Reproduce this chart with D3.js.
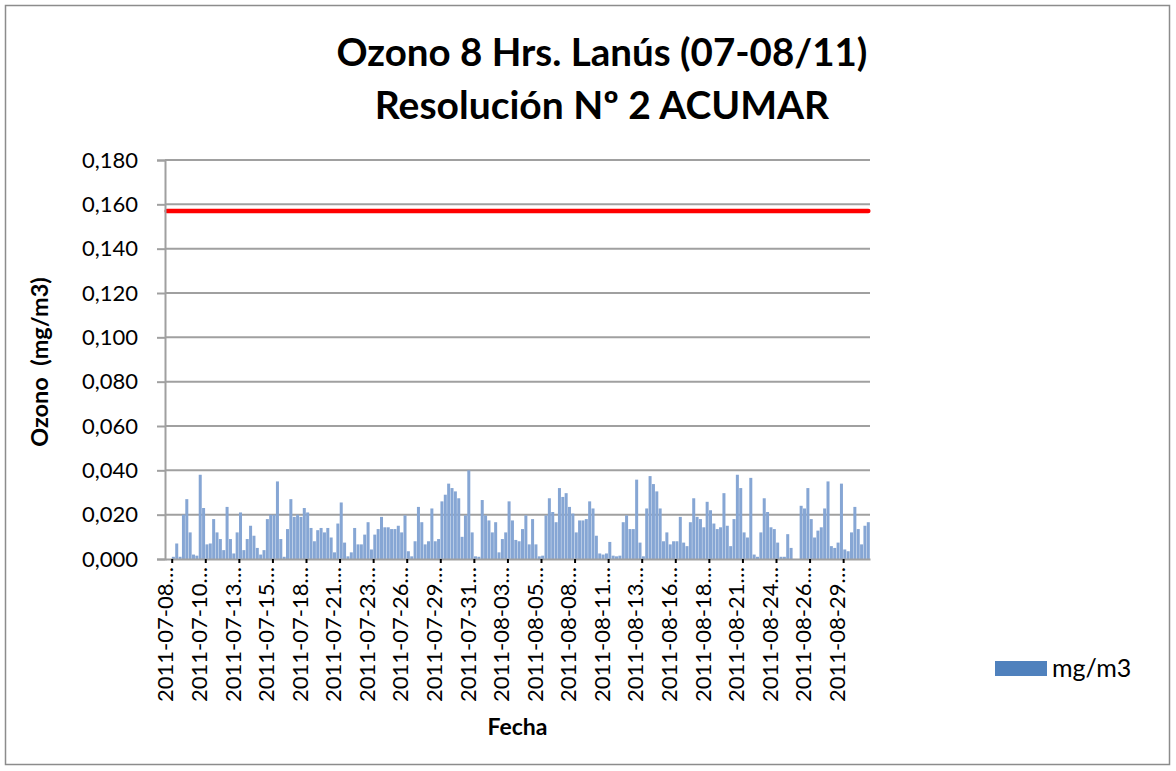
<!DOCTYPE html>
<html><head><meta charset="utf-8">
<script src="https://cdn.jsdelivr.net/npm/d3@7"></script>
<style>
body{margin:0;background:#fff}
svg{display:block}
text{font-family:Lato,"Open Sans",sans-serif;fill:#000}
</style>
</head><body>
<svg id="c" width="1176" height="771"></svg>
<script>
// 8-hour ozone, sampled every 6 hours (mg/m3), 2011-07-08 .. 2011-08-31
const ozone = [
0.000,0.000,0.001,0.007,0.001,0.020,0.027,0.012,0.002,0.0015,
0.038,0.023,0.0066,0.007,0.018,0.012,0.009,0.004,0.0235,0.009,
0.0025,0.012,0.021,0.004,0.009,0.015,0.0105,0.005,0.002,0.004,
0.018,0.020,0.020,0.035,0.009,0.001,0.0135,0.027,0.019,0.020,
0.019,0.023,0.021,0.014,0.008,0.013,0.014,0.012,0.014,0.0097,
0.003,0.016,0.0255,0.0074,0.0012,0.003,0.014,0.0066,0.0066,0.011,
0.0166,0.0043,0.011,0.0135,0.019,0.0143,0.0143,0.0135,0.0135,0.015,
0.012,0.0197,0.0035,0.0012,0.008,0.0235,0.0166,0.0066,0.008,0.0228,
0.008,0.009,0.026,0.029,0.034,0.032,0.0305,0.0274,0.010,0.0197,
0.040,0.012,0.0012,0.001,0.0266,0.0197,0.0174,0.012,0.0166,0.003,
0.009,0.012,0.026,0.0174,0.0086,0.008,0.0135,0.0197,0.0066,0.018,
0.0066,0.0012,0.0015,0.0197,0.0274,0.0212,0.0166,0.032,0.028,0.0297,
0.0235,0.0205,0.012,0.0174,0.0174,0.018,0.026,0.0228,0.0105,0.0025,
0.002,0.0025,0.0077,0.0015,0.0012,0.0015,0.0166,0.0197,0.0135,0.0135,
0.0358,0.0074,0.0012,0.0228,0.0374,0.0338,0.0305,0.0228,0.008,0.012,
0.0066,0.008,0.008,0.019,0.0074,0.0058,0.0166,0.0274,0.019,0.018,
0.0143,0.0258,0.022,0.016,0.0135,0.0143,0.0297,0.015,0.0058,0.018,
0.038,0.032,0.012,0.0097,0.0366,0.002,0.001,0.012,0.0274,0.0212,
0.0143,0.0135,0.0074,0.001,0.001,0.0112,0.005,0.000,0.000,0.024,
0.0228,0.032,0.018,0.0097,0.0128,0.0143,0.0228,0.035,0.0058,0.005,
0.0074,0.034,0.0043,0.0035,0.012,0.0235,0.0135,0.0066,0.015,0.0166
];
const limitValue = 0.157;
const tickLabels = ["2011-07-08","2011-07-10","2011-07-13","2011-07-15","2011-07-18",
  "2011-07-21","2011-07-23","2011-07-26","2011-07-29","2011-07-31","2011-08-03",
  "2011-08-05","2011-08-08","2011-08-11","2011-08-13","2011-08-16","2011-08-18",
  "2011-08-21","2011-08-24","2011-08-26","2011-08-29"];
const tickFirstIndex = 2, tickEvery = 10;
const yTickValues = [0,0.02,0.04,0.06,0.08,0.10,0.12,0.14,0.16,0.18];
const titleLines = ["Ozono 8 Hrs. Lanús (07-08/11)","Resolución Nº 2 ACUMAR"];
const yTitle = "Ozono  (mg/m3)";
const xTitle = "Fecha";
const seriesName = "mg/m3";

const svg = d3.select("#c");
const L = 165, R = 870, T = 160, B = 559;

// outer chart border
svg.append("rect").attr("x",5.5).attr("y",5.5).attr("width",1164).attr("height",759)
  .attr("fill","none").attr("stroke","#8c8c8c").attr("stroke-width",1.5);

const cats = d3.range(ozone.length);
const x = d3.scaleBand().domain(cats).range([L,R]).padding(0);
const xb = d3.scaleLinear().domain([0,ozone.length]).range([L,R]);
const y = d3.scaleLinear().domain([0,0.18]).range([B,T]);

// gridlines
svg.append("g").selectAll("line").data(yTickValues.slice(1)).join("line")
  .attr("x1",L).attr("x2",R).attr("y1",d=>y(d)).attr("y2",d=>y(d))
  .attr("stroke","#a0a0a0").attr("stroke-width",2);

// bars
svg.append("g").selectAll("rect").data(ozone).join("rect")
  .attr("x",(d,i)=>x(i)+0.15).attr("width",x.bandwidth()-0.35)
  .attr("y",d=>y(d)).attr("height",d=>B-y(d))
  .attr("fill","#86a6d4");

// limit line
svg.append("line")
  .attr("x1",x(0)+x.bandwidth()/2).attr("x2",x(ozone.length-1)+x.bandwidth()/2)
  .attr("y1",y(limitValue)).attr("y2",y(limitValue))
  .attr("stroke","#ff0000").attr("stroke-width",4.5).attr("stroke-linecap","round");

// y axis
const fmt = d => d3.format(".3f")(d).replace(".",",");
const ya = svg.append("g").attr("transform",`translate(${L},0)`)
  .call(d3.axisLeft(y).tickValues(yTickValues).tickFormat(fmt).tickSize(8).tickPadding(19));
ya.select(".domain").attr("stroke","#a0a0a0").attr("stroke-width",2);
ya.selectAll(".tick line").attr("stroke","#a0a0a0").attr("stroke-width",2);
ya.selectAll("text").attr("font-size",22).attr("font-family","Lato").attr("fill","#000");

// x axis
const tickIdx = tickLabels.map((d,i)=>tickFirstIndex + i*tickEvery);
const xa = svg.append("g").attr("transform",`translate(0,${B})`)
  .call(d3.axisBottom(xb).tickValues(tickIdx).tickFormat((d,i)=>tickLabels[i]+"…").tickSize(4).tickSizeOuter(0));
xa.select(".domain").attr("stroke","#a0a0a0").attr("stroke-width",2);
xa.selectAll(".tick line").attr("stroke","#000").attr("stroke-width",2);
xa.selectAll("text").attr("font-size",22).attr("font-family","Lato").attr("fill","#000")
  .attr("transform","rotate(-90)").attr("text-anchor","end")
  .attr("x",-8).attr("y",1.2).attr("dy",0);

// titles
svg.append("g").selectAll("text").data(titleLines).join("text")
  .attr("x",602).attr("y",(d,i)=>66+i*53).attr("text-anchor","middle")
  .attr("font-weight","bold").attr("font-size",(d,i)=>i===0?38.5:39).text(d=>d);

svg.append("text").attr("transform","translate(48,362) rotate(-90)")
  .attr("text-anchor","middle").attr("font-weight","bold").attr("font-size",23.5)
  .style("white-space","pre").text(yTitle);

svg.append("text").attr("x",(L+R)/2).attr("y",735).attr("text-anchor","middle")
  .attr("font-weight","bold").attr("font-size",23).text(xTitle);

// legend
const lg = svg.append("g").attr("transform","translate(995,661)");
lg.append("rect").attr("width",52).attr("height",15).attr("fill","#4f81bd");
lg.append("text").attr("x",57).attr("y",15.5).attr("font-size",25).text(seriesName);
</script>
</body></html>
